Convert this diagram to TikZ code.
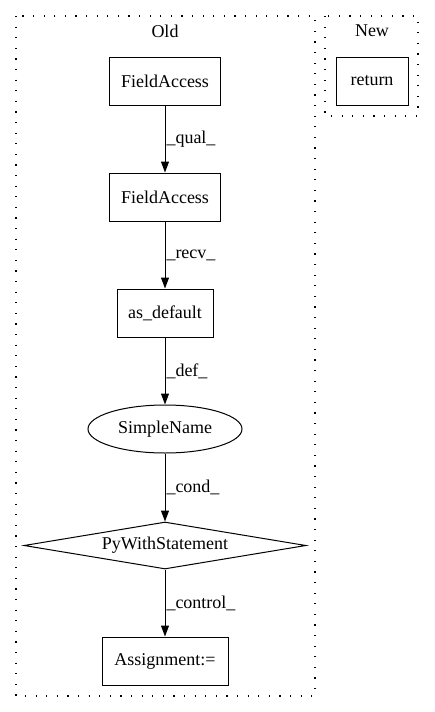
\documentclass[tikz,border=0pt]{standalone}
\usepackage{fontspec}
\setmainfont{Liberation Serif}
\usetikzlibrary{positioning,arrows.meta,shapes.geometric}

\begin{document}
\begin{tikzpicture}[x=1pt,y=-1pt,
	every node/.style={font=\fontsize{18}{20}\selectfont,line width=1pt},
	box/.style={draw,rectangle,minimum height=48pt,inner sep=0pt},
	cluster/.style={line width=1.3pt,dash pattern=on 1.2pt off 9.4pt},
	edge/.style={line width=1pt,-{Triangle[length=11pt,width=8pt]}},
	lab/.style={right,inner sep=1pt}]
	\useasboundingbox (0,0) rectangle (435,712);
	% Old
	\draw[cluster] (16,16) rectangle (315,696);
	\node (oldlab) at (165,31) {Old};
	\node[box,minimum width=111pt] (fa1) at (165,81) {FieldAccess};
	\node[box,minimum width=111pt] (fa2) at (165,197) {FieldAccess};
	\node[box,minimum width=96pt] (asdef) at (165,313) {as\_default};
	\node[draw,ellipse,minimum width=154pt,minimum height=48pt,inner sep=0pt] (sname) at (165,429) {SimpleName};
	\node[draw,diamond,shape aspect=6,minimum width=282pt,minimum height=47pt,inner sep=0pt] (pywith) at (165,545.5) {PyWithStatement};
	\node[box,minimum width=126pt] (assign) at (165,661) {Assignment:=};
	\draw[edge] (fa1) -- node[lab] {\_qual\_} (fa2);
	\draw[edge] (fa2) -- node[lab] {\_recv\_} (asdef);
	\draw[edge] (asdef) -- node[lab] {\_def\_} (sname);
	\draw[edge] (sname) -- node[lab] {\_cond\_} (pywith);
	\draw[edge] (pywith) -- node[lab] {\_control\_} (assign);
	% New
	\draw[cluster] (325,16) rectangle (418,116);
	\node (newlab) at (372,31) {New};
	\node[box,minimum width=72pt] (ret) at (372,81) {return};
\end{tikzpicture}
\end{document}
